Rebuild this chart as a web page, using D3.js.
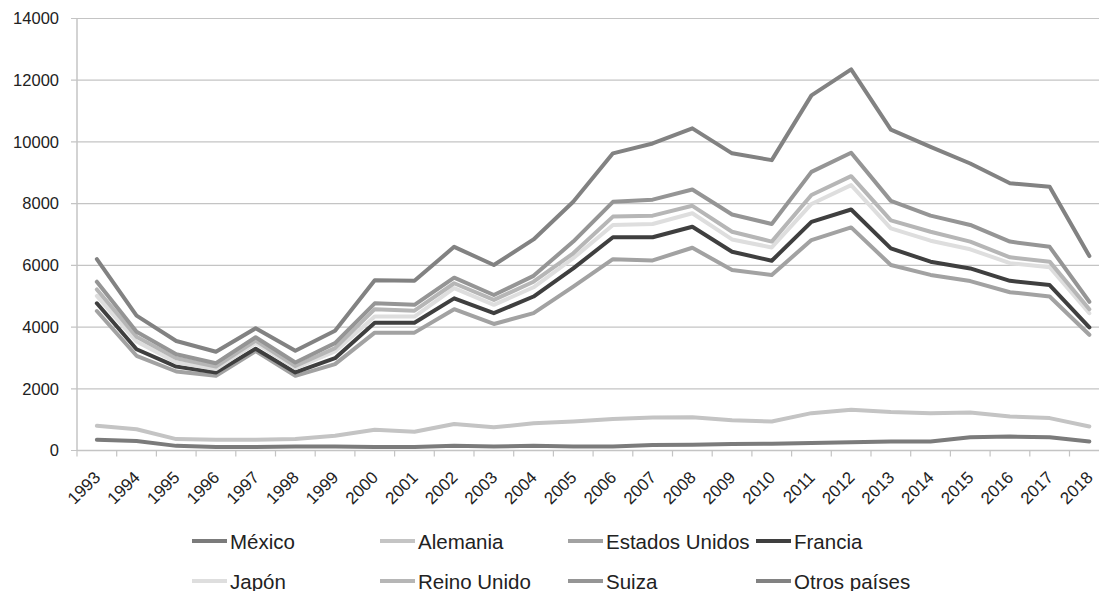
<!DOCTYPE html>
<html>
<head>
<meta charset="utf-8">
<script src="https://cdn.jsdelivr.net/npm/d3@7"></script>
<style>
  html, body { margin: 0; padding: 0; background: #fff; }
  svg { display: block; }
  text { font-family: "Liberation Sans", Arial, sans-serif; fill: #222; }
</style>
</head>
<body>
<svg id="chart" width="1099" height="591"></svg>
<script>
// Years on the category axis
const years = [1993,1994,1995,1996,1997,1998,1999,2000,2001,2002,2003,2004,2005,
               2006,2007,2008,2009,2010,2011,2012,2013,2014,2015,2016,2017,2018];

// Series (stacked in this order, bottom to top)
const mexico        = [350,310,150,110,110,130,130,110,110,150,130,150,130,130,180,190,210,220,240,270,290,290,430,450,430,290];
const alemania      = [450,380,220,240,240,240,350,560,500,710,620,730,810,890,890,890,770,720,970,1050,960,920,800,650,620,490];
const estadosUnidos = [3720,2380,2190,2070,2870,2050,2320,3150,3210,3720,3350,3570,4370,5180,5090,5490,4870,4750,5610,5910,4760,4480,4260,4030,3940,2970];
const francia       = [250,210,160,110,80,110,190,320,320,350,350,540,590,710,750,680,590,460,590,580,540,430,410,370,370,240];
const japon         = [240,250,130,110,180,140,220,200,200,330,270,300,330,400,430,440,400,430,580,790,650,680,620,570,580,460];
const reinoUnido    = [210,160,140,80,80,70,110,240,190,160,160,180,160,270,270,240,250,190,290,290,260,290,250,190,180,130];
const suiza         = [250,160,130,110,110,110,160,190,190,180,160,190,380,480,520,530,560,570,750,760,630,520,540,510,480,240];
const otrosPaises   = [730,520,430,370,290,380,400,750,780,1000,970,1180,1290,1570,1820,1980,1980,2070,2480,2700,2310,2230,1990,1890,1950,1480];

const seriesNames  = ["México","Alemania","Estados Unidos","Francia","Japón","Reino Unido","Suiza","Otros países"];
const seriesValues = [mexico, alemania, estadosUnidos, francia, japon, reinoUnido, suiza, otrosPaises];
const seriesColors = ["#7b7b7b","#c4c4c4","#a2a2a2","#3f3f3f","#dedede","#b6b6b6","#959595","#828282"];

const yTicks = [0,2000,4000,6000,8000,10000,12000,14000];

// Build rows for d3.stack
const rows = years.map((yr, i) => {
  const r = { year: yr };
  seriesNames.forEach((n, k) => { r[n] = seriesValues[k][i]; });
  return r;
});
const stacked = d3.stack().keys(seriesNames)(rows);

const svg = d3.select("#chart");
const plotLeft = 77, bandW = 39.7;
const plotRight = plotLeft + bandW * years.length;
const plotTop = 18.5, plotBottom = 450.5;

const x = d3.scaleBand().domain(years).range([plotLeft, plotRight]).paddingInner(0).paddingOuter(0);
const xc = d => x(d) + x.bandwidth() / 2;
const y = d3.scaleLinear().domain([0, 14000]).range([plotBottom, plotTop]);

// Horizontal gridlines (continuing into the outward tick marks)
svg.append("g")
  .selectAll("line")
  .data(yTicks)
  .join("line")
  .attr("x1", plotLeft - 6).attr("x2", plotRight)
  .attr("y1", d => y(d)).attr("y2", d => y(d))
  .attr("stroke", "#c4c4c4").attr("stroke-width", 1.2);

// Y axis: labels only, the line drawn separately
const yAxis = svg.append("g")
  .attr("transform", `translate(${plotLeft},0)`)
  .call(d3.axisLeft(y).tickValues(yTicks).tickSize(0).tickPadding(18).tickFormat(d3.format("d")));
yAxis.select(".domain").remove();
yAxis.selectAll("text").style("font-size", "16.5px").attr("fill", "#222");

svg.append("line")
  .attr("x1", plotLeft).attr("x2", plotLeft).attr("y1", plotTop).attr("y2", plotBottom)
  .attr("stroke", "#c4c4c4").attr("stroke-width", 1.5);

// X axis line and tick marks between categories
svg.append("line")
  .attr("x1", plotLeft).attr("x2", plotRight).attr("y1", plotBottom).attr("y2", plotBottom)
  .attr("stroke", "#c4c4c4").attr("stroke-width", 1.5);
svg.append("g")
  .selectAll("line")
  .data(d3.range(years.length + 1))
  .join("line")
  .attr("x1", k => plotLeft + k * bandW).attr("x2", k => plotLeft + k * bandW)
  .attr("y1", plotBottom).attr("y2", plotBottom + 6)
  .attr("stroke", "#c4c4c4").attr("stroke-width", 1.2);

// Rotated year labels
const xAxis = svg.append("g")
  .attr("transform", `translate(0,${plotBottom})`)
  .call(d3.axisBottom(x).tickSize(0).tickFormat(d3.format("d")));
xAxis.select(".domain").remove();
xAxis.selectAll("text")
  .style("font-size", "17px")
  .attr("fill", "#222")
  .attr("text-anchor", "end")
  .attr("dy", null)
  .attr("y", null)
  .attr("transform", "translate(4.5,28) rotate(-45)");

// Stacked lines
const line = d3.line()
  .x(d => xc(d.data.year))
  .y(d => y(d[1]));

svg.append("g")
  .selectAll("path")
  .data(stacked)
  .join("path")
  .attr("d", s => line(s))
  .attr("fill", "none")
  .attr("stroke", (s, i) => seriesColors[i])
  .attr("stroke-width", 4)
  .attr("stroke-linejoin", "round")
  .attr("stroke-linecap", "round");

// Legend: two rows of four entries
const legend = svg.append("g");
const legendItems = legend.selectAll("g")
  .data(seriesNames)
  .join("g")
  .attr("transform", (d, i) => `translate(${192 + (i % 4) * 188},${i < 4 ? 541 : 581})`);
legendItems.append("line")
  .attr("x1", 0).attr("x2", 35).attr("y1", 0).attr("y2", 0)
  .attr("stroke", (d, i) => seriesColors[i]).attr("stroke-width", 4);
legendItems.append("text")
  .attr("x", 38).attr("y", 7.5)
  .style("font-size", "20.5px")
  .attr("fill", "#222")
  .text(d => d);
</script>
</body>
</html>
